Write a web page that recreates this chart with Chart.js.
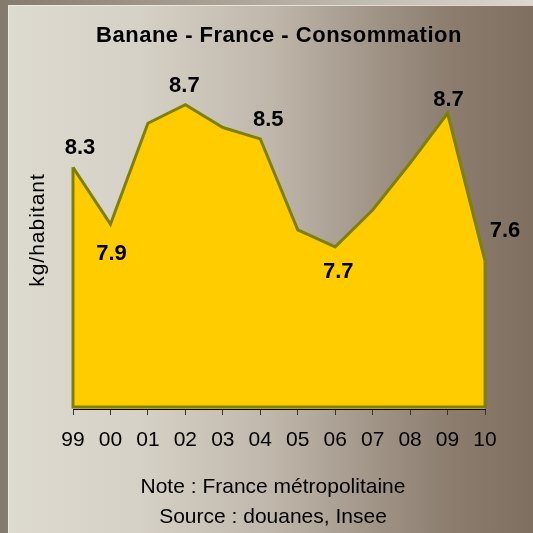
<!DOCTYPE html>
<html>
<head>
<meta charset="utf-8">
<script src="https://cdn.jsdelivr.net/npm/chart.js@4.4.1/dist/chart.umd.min.js"></script>
<style>
  html, body { margin: 0; padding: 0; background: #857a6e; }
  #wrap { width: 533px; height: 533px; }
</style>
</head>
<body>
<div id="wrap"><canvas id="bananaChart" width="533" height="533"></canvas></div>
<script>
// Data
const years = ['99', '00', '01', '02', '03', '04', '05', '06', '07', '08', '09', '10'];
const consumption = [8.30, 7.90, 8.61, 8.74, 8.58, 8.50, 7.86, 7.74, 8.00, 8.33, 8.68, 7.64];
const labelledYears = ['99', '00', '02', '04', '06', '09', '10'];

const titleText = 'Banane - France - Consommation';
const yTitleText = 'kg/habitant';
const footerLines = ['Note : France métropolitaine', 'Source : douanes, Insee'];

const FONT = "'Liberation Sans', Arial, sans-serif";

// where each value label sits relative to its point [dx, dy of baseline]
const labelOffset = {
    '99': [7, -13], '00': [1, 36], '02': [-1, -13], '04': [8, -13],
    '06': [3, 31], '09': [1, -7], '10': [20, -24]
};

const backgroundPlugin = {
    id: 'background',
    beforeDraw(chart) {
        const ctx = chart.ctx;
        const w = chart.width, h = chart.height;
        ctx.save();
        // outer frame: reversed gradient
        const outer = ctx.createLinearGradient(0, 0, w, 0);
        outer.addColorStop(0, '#857a6e');
        outer.addColorStop(0.5, '#b3aa9e');
        outer.addColorStop(1, '#dcd8cf');
        ctx.fillStyle = outer;
        ctx.fillRect(0, 0, w, h);
        // inner panel
        const panel = ctx.createLinearGradient(8, 0, w, 0);
        panel.addColorStop(0, '#dddad0');
        panel.addColorStop(0.25, '#d6d1c6');
        panel.addColorStop(0.5, '#c0b7ab');
        panel.addColorStop(0.7, '#a09487');
        panel.addColorStop(0.85, '#8b7c6d');
        panel.addColorStop(1, '#7f6f60');
        ctx.fillStyle = panel;
        ctx.fillRect(8, 5, w - 8, h - 5);
        ctx.strokeStyle = 'rgba(240,236,228,0.8)';
        ctx.lineWidth = 1;
        ctx.beginPath();
        ctx.moveTo(8.5, h);
        ctx.lineTo(8.5, 5.5);
        ctx.lineTo(w, 5.5);
        ctx.stroke();
        ctx.restore();
    },
    afterDraw(chart) {
        const ctx = chart.ctx;
        ctx.save();
        ctx.fillStyle = '#000';
        ctx.textAlign = 'center';
        ctx.textBaseline = 'alphabetic';
        ctx.font = 'bold 22px ' + FONT;
        ctx.letterSpacing = '0.5px';
        ctx.fillText(titleText, 279, 42);
        ctx.letterSpacing = '0px';
        ctx.font = '21px ' + FONT;
        ctx.fillText(footerLines[0], 273, 493);
        ctx.fillText(footerLines[1], 273, 523);
        ctx.translate(44, 230);
        ctx.rotate(-Math.PI / 2);
        ctx.font = '21px ' + FONT;
        ctx.letterSpacing = '1px';
        ctx.fillText(yTitleText, 0, 0);
        ctx.restore();
    }
};

const areaOutlinePlugin = {
    id: 'areaOutline',
    afterDatasetsDraw(chart) {
        const ctx = chart.ctx;
        const meta = chart.getDatasetMeta(0);
        const yScale = chart.scales.y;
        const first = meta.data[0];
        const last = meta.data[meta.data.length - 1];
        const base = yScale.getPixelForValue(yScale.min) - 2;
        ctx.save();
        ctx.strokeStyle = '#808000';
        ctx.lineWidth = 3;
        ctx.lineJoin = 'miter';
        ctx.beginPath();
        ctx.moveTo(first.x, first.y);
        ctx.lineTo(first.x, base);
        ctx.lineTo(last.x, base);
        ctx.lineTo(last.x, last.y);
        ctx.stroke();

        // value labels
        ctx.fillStyle = '#000';
        ctx.font = 'bold 22px ' + FONT;
        ctx.textAlign = 'center';
        ctx.textBaseline = 'alphabetic';
        meta.data.forEach((pt, i) => {
            const yr = years[i];
            if (!labelledYears.includes(yr)) return;
            const off = labelOffset[yr] || [0, -12];
            ctx.fillText(consumption[i].toFixed(1), pt.x + off[0], pt.y + off[1]);
        });
        ctx.restore();
    }
};

const ctx = document.getElementById('bananaChart').getContext('2d');

const bananaChart = new Chart(ctx, {
    type: 'line',
    data: {
        labels: years,
        datasets: [{
            label: 'Consommation',
            data: consumption,
            borderColor: '#808000',
            borderWidth: 3,
            borderJoinStyle: 'miter',
            backgroundColor: '#ffcc00',
            fill: 'start',
            tension: 0,
            pointRadius: 0,
            pointHoverRadius: 0
        }]
    },
    options: {
        responsive: false,
        animation: false,
        layout: {
            padding: { left: 73, right: 48, top: 82, bottom: 0 }
        },
        plugins: {
            legend: { display: false },
            title: { display: false },
            tooltip: { enabled: false }
        },
        scales: {
            y: {
                display: false,
                min: 6.6,
                max: 8.9
            },
            x: {
                offset: false,
                z: 1,
                afterFit(scale) { scale.height = 124; },
                grid: {
                    display: true,
                    drawOnChartArea: false,
                    drawTicks: true,
                    tickLength: 6,
                    tickColor: '#333',
                    offset: false
                },
                border: { display: true, color: '#000', width: 1 },
                ticks: {
                    color: '#000',
                    font: { size: 21, family: FONT },
                    padding: 13,
                    maxRotation: 0,
                    autoSkip: false
                }
            }
        }
    },
    plugins: [backgroundPlugin, areaOutlinePlugin]
});
</script>
</body>
</html>
